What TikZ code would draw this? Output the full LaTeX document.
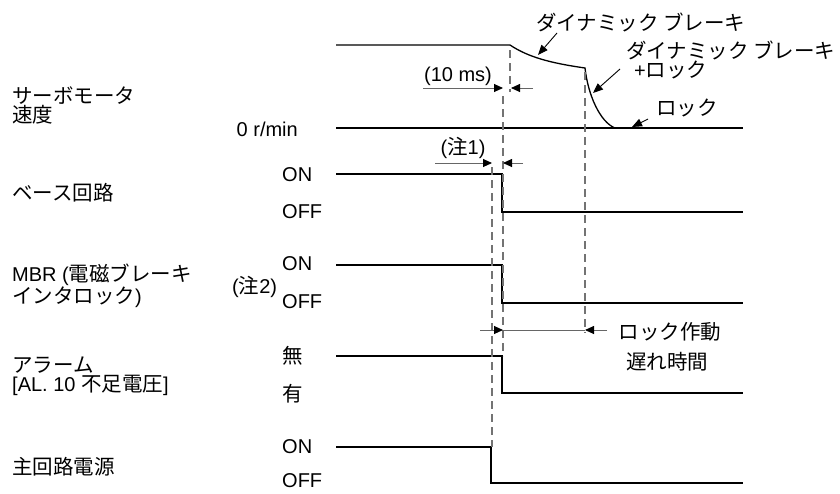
\documentclass[tikz,border=0pt]{standalone}
\usepackage{fontspec}
\setmainfont{Liberation Sans}
\newfontfamily\jpf[Scale=1.025]{Noto Sans CJK JP}
\usetikzlibrary{arrows.meta}
\newcommand{\J}[1]{{\jpf #1}}
\begin{document}
\begin{tikzpicture}[x=1pt,y=-1pt,
  sig/.style={line width=1.3pt, black},
  dsh/.style={line width=1.1pt, black!55, dash pattern=on 8pt off 5pt},
  dim/.style={line width=0.9pt, black!60},
  tip/.style={-{Triangle[length=9pt,width=8pt,color=black]}},
  call/.style={line width=0.9pt, black, -{Triangle[length=10pt,width=8pt]}},
  lbl/.style={inner sep=0pt, font=\fontsize{20}{23}\selectfont},
  lw/.style={lbl, anchor=west}
]
\useasboundingbox (0,0) rectangle (840,493);

% ---- signal waveforms ----
\coordinate (s0) at (336,45);
\coordinate (s1) at (510,45);
\coordinate (s2) at (585,68);
\coordinate (s3) at (615,128);
\coordinate (z0) at (336,128);
\coordinate (z1) at (743,128);
\draw[sig] (s0) -- (s1) .. controls (528,57) and (550,63) .. (s2) .. controls (588,95) and (600,122) .. (s3);
\draw[sig] (z0) -- (z1);

\draw[sig] (336,174) -- (502,174) -- (502,212) -- (743,212);
\draw[sig] (336,265) -- (502,265) -- (502,303) -- (743,303);
\draw[sig] (336,356) -- (502,356) -- (502,393) -- (743,393);
\draw[sig] (336,447) -- (491,447) -- (491,483) -- (743,483);

% ---- dashed guides ----
\draw[dsh] (510,50) -- (510,92);
\draw[dsh] (503,96) -- (503,356);
\draw[dsh] (492,167) -- (492,447);
\draw[dsh] (585,72) -- (585,333);

% ---- dimension arrows ----
\coordinate (a1) at (423,88);  \coordinate (a2) at (503,88);
\coordinate (a3) at (533,88);  \coordinate (a4) at (511,88);
\draw[dim,tip] (a1) -- (a2);
\draw[dim,tip] (a3) -- (a4);

\coordinate (b1) at (435,163); \coordinate (b2) at (492,163);
\coordinate (b3) at (523,163); \coordinate (b4) at (503,163);
\draw[dim,tip] (b1) -- (b2);
\draw[dim,tip] (b3) -- (b4);

\coordinate (c1) at (480,330); \coordinate (c2) at (503,330);
\coordinate (c3) at (607,330); \coordinate (c4) at (585,330);
\draw[dim,tip] (c1) -- (c2);
\draw[dim] (c2) -- (c4);
\draw[dim,tip] (c3) -- (c4);

% ---- labels ----
\node[lw] (t1) at (536,22) {\J{ダイナミック ブレーキ}};
\node[lw] (t2) at (626,50) {\J{ダイナミック ブレーキ}};
\node[lw] (t3) at (634,70) {+\J{ロック}};
\node[lw] (t4) at (656,108) {\J{ロック}};
\coordinate (p1) at (557,33);  \coordinate (q1) at (538,55);
\coordinate (p2) at (620,69);  \coordinate (q2) at (593,93);
\coordinate (p3) at (648,119); \coordinate (q3) at (632,127);
\draw[call] (p1) -- (q1);
\draw[call] (p2) -- (q2);
\draw[call] (p3) -- (q3);

\node[lbl] (ms) at (458,76) {(10 ms)};
\node[lbl] (n1) at (463,148) {(\J{注}1)};
\node[lbl] (ld1) at (670,332) {\J{ロック作動}};
\node[lbl] (ld2) at (667,362) {\J{遅れ時間}};

\node[lw] (L1a) at (12,96) {\J{サーボモータ}};
\node[lw] (L1b) at (12,115) {\J{速度}};
\node[lw] (L2) at (12,193) {\J{ベース回路}};
\node[lw] (L3a) at (12,275) {MBR (\J{電磁ブレーキ}};
\node[lw] (L3b) at (12,297) {\J{インタロック})};
\node[lw] (L4a) at (12,365) {\J{アラーム}};
\node[lw] (L4b) at (12,385) {[AL. 10 \J{不足電圧}]};
\node[lw] (L5) at (12,467) {\J{主回路電源}};

\node[lbl,anchor=east] (rmin) at (298,129) {0 r/min};
\node[lw] (on1) at (282,175) {ON};
\node[lw] (off1) at (282,212) {OFF};
\node[lw] (on2) at (282,264) {ON};
\node[lw] (off2) at (282,302) {OFF};
\node[lw] (n2) at (232,287) {(\J{注}2)};
\node[lw] (nai) at (282,356) {\J{無}};
\node[lw] (ari) at (282,394) {\J{有}};
\node[lw] (on3) at (282,447) {ON};
\node[lw] (off3) at (282,481) {OFF};
\end{tikzpicture}
\end{document}
